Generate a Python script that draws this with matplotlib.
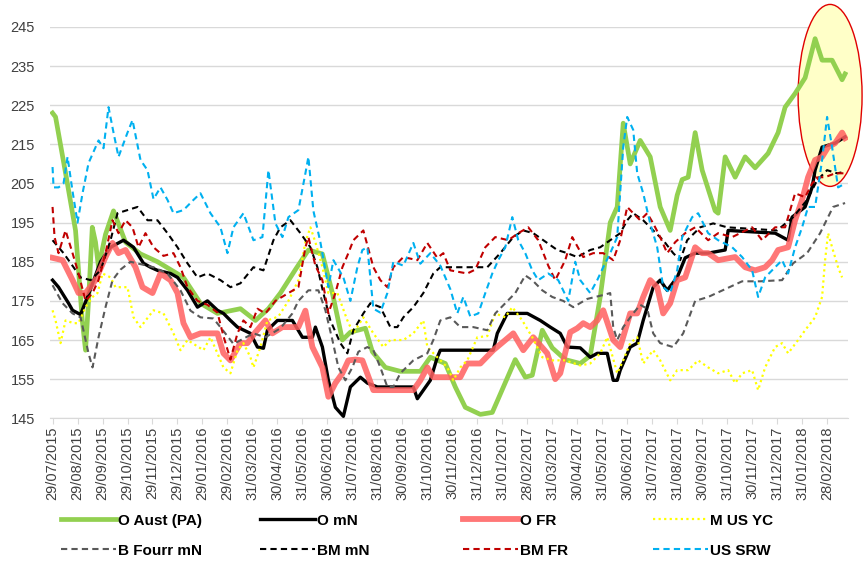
import matplotlib.pyplot as plt
from matplotlib.patches import Ellipse

plt.rcParams['font.family'] = ['Liberation Sans', 'DejaVu Sans']

# x axis: months since 29/07/2015
tick_labels = ['29/07/2015', '29/08/2015', '29/09/2015', '29/10/2015', '29/11/2015', '29/12/2015',
               '29/01/2016', '29/02/2016', '31/03/2016', '30/04/2016', '31/05/2016', '30/06/2016',
               '31/07/2016', '31/08/2016', '30/09/2016', '31/10/2016', '30/11/2016', '31/12/2016',
               '31/01/2017', '28/02/2017', '31/03/2017', '30/04/2017', '31/05/2017', '30/06/2017',
               '31/07/2017', '31/08/2017', '30/09/2017', '31/10/2017', '30/11/2017', '31/12/2017',
               '31/01/2018', '28/02/2018']

# O Aust (PA)
aust_m = [0, 0.12, 0.52, 0.92, 1.19, 1.32, 1.44, 1.59, 1.72, 1.84, 2.12, 2.44, 2.92, 3.52, 4.2, 5.24, 5.92, 6.6,
          7.52, 8.12, 8.64, 9.12, 9.72, 10.24, 10.8, 11.2, 11.6, 11.92, 12.52, 12.8, 13.32, 13.92, 14.72, 15.12,
          15.72, 16.12, 16.52, 17.12, 17.6, 17.84, 18.52, 18.92, 19.2, 19.6, 20.0, 20.52, 21.12, 21.52, 21.92,
          22.32, 22.6, 22.84, 23.12, 23.52, 23.92, 24.32, 24.72, 25.0, 25.2, 25.44, 25.72, 26.0, 26.52, 26.64,
          26.92, 27.32, 27.72, 28.12, 28.64, 29.04, 29.32, 29.72, 30.12, 30.52, 30.8, 31.2, 31.6, 31.72]
aust_v = [223, 222, 207.7, 193, 170, 162.4, 175, 193.8, 190, 183.6, 192, 198, 190, 187, 185, 181, 174.4, 171.8,
          173, 170, 173, 177, 183, 188, 187, 177, 165, 167, 168, 162, 158, 157, 157, 160.6, 159, 153, 147.8, 146,
          146.5, 150, 160, 155.5, 156, 167.5, 163, 160, 159, 161, 176, 195, 199, 220.4, 210, 216, 211.8, 199, 193,
          202, 206, 206.6, 218, 208.4, 198, 197.4, 211.8, 206.6, 211.8, 209, 212.7, 218, 224.5, 228, 232, 242,
          236.5, 236.5, 231.5, 233]

# O mN
omn_m = [0, 0.24, 0.64, 0.8, 1.12, 1.52, 1.92, 2.32, 2.84, 3.24, 3.64, 3.92, 4.2, 4.72, 5.0, 5.4, 5.8, 6.2, 6.6,
         6.84, 7.12, 7.4, 7.92, 8.2, 8.44, 8.6, 9.0, 9.6, 10.0, 10.4, 10.52, 10.8, 11.04, 11.32, 11.64, 11.92,
         12.32, 12.6, 13.0, 14.44, 14.6, 15.12, 15.4, 15.52, 17.64, 17.8, 18.2, 19.0, 19.52, 19.92, 20.32, 20.6,
         21.12, 21.52, 21.8, 22.2, 22.44, 22.6, 22.72, 23.12, 23.4, 23.64, 24.04, 24.32, 24.6, 25.0, 25.32, 25.72,
         26.24, 26.92, 27.04, 28.92, 29.44, 29.6, 30.12, 30.4, 30.52, 30.8, 31.32, 31.72]
omn_v = [180.3, 178.5, 174.4, 172.6, 171.5, 178, 185, 188.7, 190.5, 188.7, 184.6, 183.6, 182.8, 182, 181, 177.7,
         173.4, 175, 172.6, 171.8, 170, 168.3, 166.7, 163.2, 162.9, 167.5, 170, 170, 165.7, 165.7, 168.3, 163.2,
         154.7, 147.8, 145.5, 153, 155.5, 154, 153, 153, 150, 154.7, 160.6, 162.4, 162.4, 166.7, 171.8, 171.8, 170,
         168.3, 166.7, 163.2, 163, 160.6, 161.6, 161.6, 154.7, 154.7, 157.3, 163.2, 164.2, 170, 178.5, 180.3,
         177.7, 181, 186, 187.2, 187.2, 188, 193, 192.3, 190.5, 196.4, 199, 204, 208.4, 214.3, 215.3, 216.9]

# O FR
ofr_m = [0, 0.4, 0.8, 1.04, 1.32, 1.72, 2.12, 2.4, 2.64, 2.92, 3.32, 3.6, 4.0, 4.32, 4.72, 5.0, 5.24, 5.52, 5.92,
         6.6, 6.84, 7.12, 7.52, 7.8, 8.12, 8.52, 8.8, 9.2, 9.84, 10.12, 10.4, 10.8, 11.04, 11.32, 11.6, 11.84,
         12.12, 12.4, 12.84, 14.44, 14.72, 15.0, 15.24, 16.32, 16.6, 17.12, 17.64, 18.44, 18.84, 19.24, 19.8, 20.12,
         20.32, 20.72, 21.0, 21.24, 21.52, 21.8, 22.04, 22.44, 22.72, 23.12, 23.4, 23.64, 23.92, 24.2, 24.44,
         24.72, 25.0, 25.32, 25.72, 26.0, 26.24, 26.64, 27.32, 27.72, 28.12, 28.52, 28.8, 29.04, 29.44, 29.72,
         30.0, 30.24, 30.52, 30.8, 31.04, 31.32, 31.6, 31.72]
ofr_v = [186, 185.4, 180.3, 177, 177, 180.3, 186.2, 189.8, 187.2, 188, 183.6, 178.5, 177, 182, 180.3, 177, 169.3,
         165.7, 166.7, 166.7, 161.6, 159.8, 164.2, 164.2, 167, 170, 166.7, 168.3, 168.3, 172.5, 163.2, 158, 150.5,
         154, 156.5, 159.8, 160, 159.8, 152.2, 152.2, 154.7, 158, 155.5, 155.5, 159, 159, 162.4, 166.7, 162.4,
         165.7, 161.6, 155, 156.5, 167, 168, 169.3, 168.3, 170, 172.6, 165, 163.2, 171.8, 171.8, 176, 180.3, 178.5,
         171.8, 174.4, 180.3, 181, 188.7, 187.2, 187.2, 185.4, 186.2, 183.6, 182.8, 183.6, 185.4, 188, 188.7,
         195.6, 200.8, 206.6, 211, 211.8, 214.3, 215.3, 218, 216.6]

# M US YC
yc_m = [0, 0.12, 0.32, 0.52, 0.84, 1.04, 1.32, 1.6, 1.8, 2.0, 2.32, 2.52, 3.0, 3.24, 3.52, 4.04, 4.44, 4.84, 5.12,
        5.4, 6.04, 6.32, 6.6, 6.84, 7.12, 7.4, 7.64, 7.92, 8.04, 8.32, 8.6, 9.04, 9.44, 9.84, 10.12, 10.32, 10.52,
        10.8, 11.04, 11.4, 11.8, 12.04, 12.44, 12.84, 13.24, 13.52, 14.04, 14.44, 14.84, 15.0, 15.4, 15.8, 16.04,
        16.32, 16.6, 17.0, 17.4, 17.72, 18.12, 18.4, 18.8, 19.2, 19.6, 20.0, 20.52, 21.12, 21.52, 21.92, 22.2,
        22.6, 22.84, 23.12, 23.4, 23.64, 24.04, 24.32, 24.72, 25.0, 25.44, 25.84, 26.24, 26.64, 27.04, 27.32,
        27.6, 28.0, 28.24, 28.52, 28.92, 29.2, 29.44, 29.84, 30.12, 30.52, 30.8, 30.92, 31.04, 31.2, 31.44, 31.6]
yc_v = [172.6, 170, 164.2, 170, 169.3, 169.3, 173.4, 176, 177, 182, 181, 178.5, 178.5, 170.8, 168.3, 172.6, 171.8,
        166.7, 162.4, 165, 162.4, 165.7, 161.6, 158, 156.5, 162.4, 164.2, 160.6, 158, 163.2, 170, 171, 175, 180.3,
        190, 193.8, 190, 183.6, 177, 177, 170, 166.7, 170.8, 166.7, 163.2, 165, 165, 166.7, 170, 163.2, 160.6, 158,
        154.7, 158, 159.8, 165.7, 166, 171.8, 170.8, 173.4, 170, 165.7, 160.6, 159.8, 159.8, 158.5, 159, 161.6,
        165.7, 156.5, 159.8, 164.2, 165.7, 159, 162.4, 159.8, 154.7, 157.3, 157.3, 159.8, 158, 156.5, 157.3, 154,
        156.5, 157.3, 152.2, 158, 163.2, 164.2, 161.6, 165, 167.5, 170.8, 176, 185.4, 192.3, 188.7, 183.6, 181]

# B Fourr mN
bf_m = [0, 0.4, 0.8, 1.12, 1.44, 1.6, 1.84, 2.12, 2.4, 2.72, 3.12, 4.04, 4.6, 5.12, 5.52, 5.92, 6.44, 7.0, 7.24,
        8.04, 8.52, 9.12, 9.6, 9.84, 10.24, 10.64, 10.92, 11.2, 11.44, 11.72, 12.0, 12.24, 12.6, 12.84, 13.12,
        13.4, 13.64, 13.92, 14.44, 15.0, 15.24, 15.52, 15.92, 16.32, 16.84, 17.4, 17.72, 18.12, 18.52, 18.92,
        19.2, 19.6, 20.0, 20.44, 20.84, 21.4, 22.04, 22.32, 22.44, 22.6, 22.84, 23.24, 23.52, 23.8, 24.04, 24.32,
        24.84, 25.24, 25.72, 26.24, 26.92, 27.6, 28.32, 29.2, 29.64, 30.2, 30.72, 31.24, 31.72]
bf_v = [179, 174.4, 171.8, 170.8, 161.6, 158, 165.7, 173.4, 180.3, 183, 185, 183.6, 182, 177.7, 172.5, 170.8,
        170.5, 166, 164, 166.7, 165.7, 168, 171.8, 175, 177.7, 177.7, 172.6, 165, 158, 154.7, 158, 162, 163.2,
        162.4, 158, 153, 153, 156.5, 159.8, 161.6, 165, 170, 170.8, 168.3, 168.3, 167.5, 171.8, 174.4, 177, 181.5,
        180.3, 177.7, 176, 175, 173.4, 175.5, 176.5, 177, 168.3, 165, 168.3, 171.8, 174, 173, 166.7, 164.2, 163.2,
        166.7, 175, 176, 178, 180, 180, 180.3, 184.6, 187.2, 192.3, 199, 200]

# BM mN
bmn_m = [0, 0.44, 0.84, 1.12, 1.52, 1.92, 2.32, 2.6, 3.0, 3.4, 3.8, 4.2, 4.6, 5.0, 5.4, 5.8, 6.2, 6.72, 7.12,
         7.52, 8.04, 8.44, 8.84, 9.12, 9.52, 9.92, 10.32, 10.6, 10.84, 11.12, 11.52, 11.8, 12.04, 12.44, 12.72,
         13.12, 13.52, 13.8, 14.04, 14.44, 14.84, 15.24, 15.52, 17.4, 17.92, 18.44, 18.84, 19.24, 19.8, 20.2, 20.6,
         21.0, 21.52, 21.92, 22.32, 22.72, 23.0, 23.24, 23.64, 24.04, 24.44, 24.84, 25.12, 25.4, 25.92, 26.44,
         27.0, 29.0, 29.64, 30.2, 30.6, 31.0, 31.4, 31.72]
bmn_v = [190.5, 187.2, 183.6, 181, 180.3, 182.8, 190.5, 197.4, 198.2, 199, 195.6, 195.6, 192.3, 188.7, 184.6, 181,
         182, 180.3, 178.5, 179.5, 183.6, 182.8, 190.5, 193.8, 195.6, 192.3, 188.7, 183.6, 177, 170, 164.2, 161.6,
         167.5, 171.8, 174.4, 173.4, 168.3, 168.3, 170.8, 173.4, 177, 182, 183.6, 183.6, 187.2, 191.3, 193, 192.3,
         189.8, 188, 187.2, 186.2, 188, 188.7, 190.5, 192.3, 195.6, 197.4, 195.6, 193, 190.5, 187.2, 185.4, 190.5,
         193.8, 194.8, 193.8, 193, 196.4, 200.8, 205.8, 208.4, 207.6, 208]

# BM FR
bfr_m = [0, 0.08, 0.24, 0.52, 0.8, 1.04, 1.32, 1.6, 1.84, 2.12, 2.4, 2.64, 2.92, 3.2, 3.44, 3.72, 4.04, 4.44,
         4.84, 5.12, 5.4, 5.8, 6.2, 6.6, 6.84, 7.12, 7.4, 7.64, 7.92, 8.2, 8.52, 8.92, 9.44, 9.84, 10.12, 10.24,
         10.52, 10.8, 11.04, 11.32, 11.6, 11.84, 12.04, 12.44, 12.84, 13.12, 13.4, 13.64, 14.04, 14.6, 15.0, 15.4,
         15.64, 15.92, 16.6, 16.92, 17.32, 17.72, 18.24, 18.64, 19.04, 19.44, 19.84, 20.12, 20.52, 20.8, 21.24,
         21.64, 22.04, 22.44, 22.72, 23.0, 23.24, 23.52, 23.8, 24.04, 24.32, 24.6, 24.92, 25.32, 25.72, 26.24,
         26.64, 27.2, 28.0, 28.4, 28.92, 29.32, 29.72, 30.12, 30.4, 30.64, 30.92, 31.32, 31.72]
bfr_v = [199, 191.3, 187.2, 193, 187.2, 182, 175, 177, 180.3, 187.2, 195.6, 192.3, 195.6, 193.8, 188.7, 192.3,
         188.7, 186.5, 187.2, 183.6, 178.5, 175, 174, 172, 166, 160, 166.7, 170, 168.3, 173, 171.8, 175, 177, 178.5,
         188.7, 191.3, 184, 180.3, 171.8, 177, 183.6, 187.2, 190.5, 193, 183.6, 180.3, 178.5, 183.6, 186.2, 185.4,
         189.8, 186, 187.2, 182.8, 182, 183, 188.7, 191.3, 190.5, 192.3, 193.8, 190.5, 184, 180.3, 185.4, 191.3,
         186.2, 187.2, 187.2, 185.4, 190.5, 199, 197.4, 195.6, 197.4, 194.8, 191.3, 187.2, 190, 192.3, 193.8, 190.5,
         192.3, 191.3, 193.8, 190.5, 193.8, 193.8, 202.5, 201.5, 205, 206.6, 206.6, 207.6, 207.6]

# US SRW
srw_m = [0, 0.04, 0.24, 0.44, 0.6, 0.8, 1.0, 1.2, 1.44, 1.84, 2.04, 2.24, 2.44, 2.64, 3.0, 3.2, 3.52, 3.8, 4.04,
         4.32, 4.6, 4.84, 5.24, 5.64, 5.92, 6.32, 6.72, 7.0, 7.24, 7.64, 8.04, 8.4, 8.64, 8.92, 9.2, 9.44, 9.84,
         10.12, 10.24, 10.44, 10.72, 11.04, 11.24, 11.64, 11.92, 12.2, 12.4, 12.6, 12.84, 13.12, 13.4, 13.64,
         14.04, 14.44, 14.72, 15.12, 15.52, 15.92, 16.2, 16.44, 16.72, 17.04, 17.32, 17.6, 17.84, 18.12, 18.4,
         18.64, 18.92, 19.2, 19.44, 19.84, 20.24, 20.64, 20.92, 21.12, 21.52, 21.8, 22.04, 22.32, 22.6, 22.84,
         23.0, 23.24, 23.4, 23.64, 23.92, 24.2, 24.44, 24.72, 25.0, 25.2, 25.6, 25.84, 26.24, 26.64, 27.2, 27.6,
         28.0, 28.24, 28.52, 28.92, 29.2, 29.44, 29.72, 30.0, 30.24, 30.52, 30.8, 31.0, 31.2, 31.44, 31.72]
srw_v = [209.2, 204, 204, 205, 211.8, 203, 195, 202.5, 210.2, 216, 214, 224.5, 218, 211.8, 218, 221.2, 211, 208.4,
         201, 204, 200.8, 197.4, 198.2, 200.8, 202.5, 197.4, 193.8, 187.2, 193.8, 197.4, 190.5, 191.3, 208.4,
         194.8, 191.3, 196.4, 198.2, 207.6, 211.8, 198, 190, 178.5, 185.4, 181, 175, 183.6, 188, 188.7, 173, 172,
         177, 185, 184, 189.8, 184.5, 187.2, 184, 178, 171.8, 176, 171, 171.8, 177, 182, 185.4, 188.7, 196.4, 190.5,
         187.2, 182.8, 180.3, 182, 180.3, 175, 185, 180.3, 177, 180.3, 183.6, 187.2, 191.3, 214.3, 222, 218.7,
         207.6, 202.5, 194.8, 188.7, 178.5, 177, 182.8, 191.3, 196.4, 197.4, 192.3, 190.5, 188.7, 186.2, 182.8,
         176, 181, 183.6, 185.4, 182, 188.7, 193.8, 199, 199, 211, 222, 214.3, 204, 205]

fig = plt.figure(figsize=(8.63, 5.73), dpi=100)
ax = fig.add_axes([0.058, 0.27, 0.925, 0.683])

l1, = ax.plot(aust_m, aust_v, color='#92D050', lw=3.4, solid_joinstyle='round', label='O Aust (PA)', zorder=3)
l2, = ax.plot(omn_m, omn_v, color='black', lw=2.4, label='O mN', zorder=3)
l3, = ax.plot(ofr_m, ofr_v, color='#FF5F5F', lw=4.2, alpha=0.85, label='O FR', zorder=3)
l4, = ax.plot(yc_m, yc_v, color='#FFFF00', lw=1.6, ls=(0, (1, 1.5)), label='M US YC', zorder=3)
l5, = ax.plot(bf_m, bf_v, color='#595959', lw=1.5, ls=(0, (3, 2)), label='B Fourr mN', zorder=3)
l6, = ax.plot(bmn_m, bmn_v, color='black', lw=1.5, ls=(0, (3, 2)), label='BM mN', zorder=3)
l7, = ax.plot(bfr_m, bfr_v, color='#C00000', lw=1.5, ls=(0, (3, 2)), label='BM FR', zorder=3)
l8, = ax.plot(srw_m, srw_v, color='#00B0F0', lw=1.5, ls=(0, (3, 2)), label='US SRW', zorder=3)

# highlight of the last weeks
ell = Ellipse((31.12, 227.5), 2.56, 46.5, facecolor='#FFFFC8', edgecolor='#E00000', lw=1.0,
              zorder=2, clip_on=False)
ax.add_patch(ell)

ax.set_xlim(-0.1, 31.85)
ax.set_ylim(145, 245)
ax.set_yticks(range(145, 246, 10))
ax.set_xticks(range(len(tick_labels)))
ax.set_xticklabels(tick_labels, rotation=90, fontsize=10.5, color='#404040')
ax.tick_params(axis='y', length=0, labelsize=10.5, labelcolor='#404040', pad=11)
ax.tick_params(axis='x', length=4, color='#D9D9D9', pad=2)
ax.grid(axis='y', color='#D9D9D9', lw=1.0)
ax.set_axisbelow(True)
for s in ['top', 'right', 'left']:
    ax.spines[s].set_visible(False)
ax.spines['bottom'].set_color('#D9D9D9')

# legend laid out as two rows of four, like the original
cols = [[l1, l5], [l2, l6], [l3, l7], [l4, l8]]
col_x = [0.062, 0.293, 0.528, 0.748]
for hs, x in zip(cols, col_x):
    fig.legend(handles=hs, labels=[h.get_label() for h in hs], loc='upper left',
               bbox_to_anchor=(x, 0.117), frameon=False, handlelength=3.6,
               handletextpad=0.1, labelspacing=1.05, borderpad=0,
               prop={'weight': 'bold', 'size': 11})

fig.savefig('out.png', dpi=100)
